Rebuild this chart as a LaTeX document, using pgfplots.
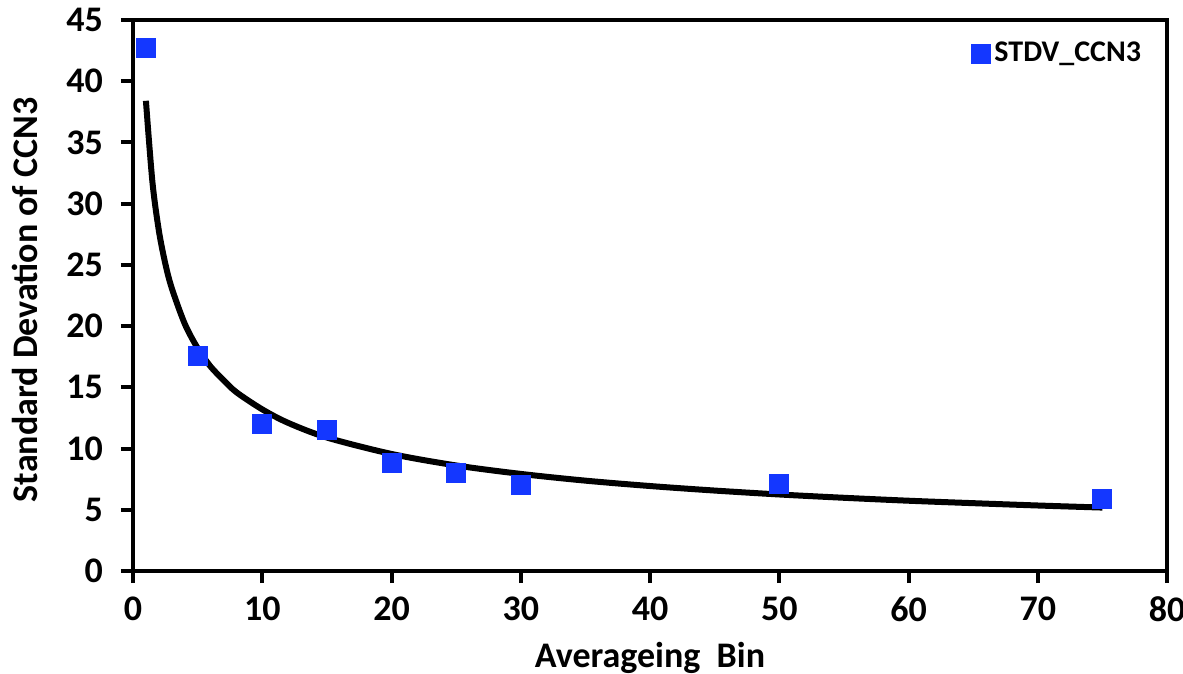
\documentclass[border=0pt]{standalone}
\usepackage{fontspec}
\setmainfont{Carlito}
\usepackage{pgfplots}
\pgfplotsset{compat=1.18}
\definecolor{markblue}{RGB}{20,55,255}

\begin{document}
\begin{tikzpicture}
\begin{axis}[
    scale only axis,
    width=517pt,
    height=275.5pt,
    xmin=0, xmax=80,
    ymin=0, ymax=45,
    xtick={0,10,...,80},
    ytick={0,5,...,45},
    axis line style={line width=2pt},
    tick style={line width=2pt, black},
    major tick length=6pt,
    tick align=outside,
    xtick pos=bottom,
    ytick pos=left,
    /pgf/number format/assume math mode=true,
    ticklabel style={font=\fontsize{18}{18}\selectfont\bfseries},
    xticklabel shift=3.5pt,
    yticklabel shift=5.5pt,
    xlabel={Averageing~~Bin},
    ylabel={Standard Devation of CCN3},
    label style={font=\fontsize{18}{18}\selectfont\bfseries},
    xlabel style={at={(axis description cs:0.5,-0.176)}, anchor=base},
    ylabel style={at={(axis description cs:-0.1044,0.492)}, anchor=center},
    legend style={at={(rel axis cs:0.985,0.975)}, anchor=north east, draw=none, fill=none,
        font=\fontsize{15}{15}\selectfont\bfseries},
    legend cell align=left,
]
% fitted power trend line
\addplot[line width=3pt, black, smooth, forget plot] coordinates {
    (1,38.4) (1.5,31.8) (2,27.8) (2.5,25.1) (3,23.1) (4,20.2) (5,18.2)
    (6,16.7) (7,15.6) (8,14.6) (10,13.2) (12,12.1) (15,10.9) (20,9.56)
    (25,8.62) (30,7.93) (35,7.38) (40,6.94) (45,6.57) (50,6.25) (55,5.98)
    (60,5.74) (65,5.54) (70,5.35) (75,5.18)
};
\addplot[only marks, mark=square*, mark size=4.75pt, markblue, mark options={draw=markblue, fill=markblue}] coordinates {
    (1,42.7) (5,17.6) (10,12.0) (15,11.5) (20,8.8) (25,8.0) (30,7.0) (50,7.1) (75,5.9)
};
\addlegendentry{STDV\_CCN3}
\coordinate (sw) at (rel axis cs:0,0);
\coordinate (ne) at (rel axis cs:1,1);
\end{axis}
\pgfresetboundingbox
\path[use as bounding box] ([shift={(-66.5pt,-51pt)}]sw) rectangle ([shift={(8pt,10pt)}]ne);
\end{tikzpicture}
\end{document}
